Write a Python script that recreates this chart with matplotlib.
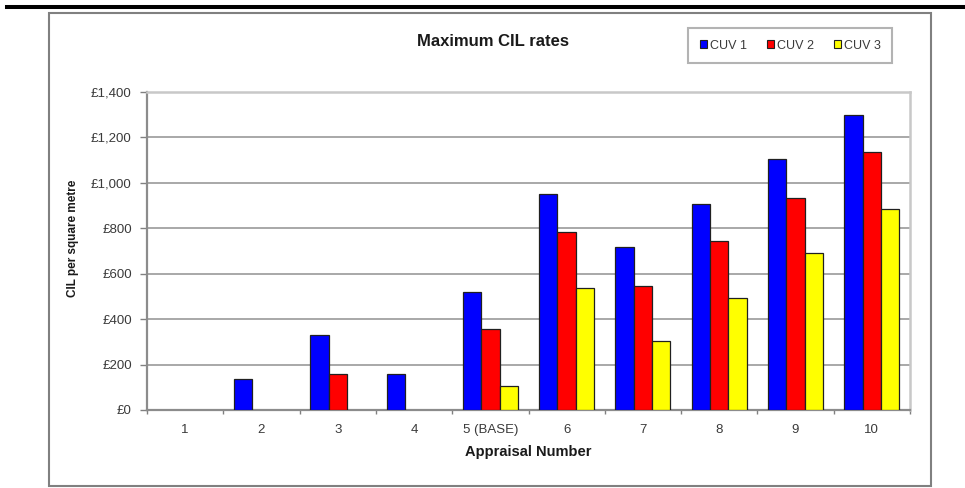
import numpy as np
import matplotlib.pyplot as plt
from matplotlib.patches import Rectangle
from matplotlib.lines import Line2D
from matplotlib.ticker import FuncFormatter

plt.rcParams['font.family'] = ['Liberation Sans', 'DejaVu Sans']

# appraisal data, CIL per square metre
appraisals = ['1', '2', '3', '4', '5 (BASE)', '6', '7', '8', '9', '10']
cuv1 = [0, 135, 330, 160, 518, 952, 716, 905, 1106, 1297]
cuv2 = [0, 0, 157, 0, 355, 784, 547, 744, 935, 1134]
cuv3 = [0, 0, 0, 0, 106, 538, 304, 494, 693, 886]
series_names = ['CUV 1', 'CUV 2', 'CUV 3']
colours = ['#0000ff', '#ff0000', '#ffff00']

W, H = 965, 488
fig = plt.figure(figsize=(W / 100, H / 100), dpi=100)

def px(x, y):
    # pixel position (from top-left) to figure fraction
    return x / W, 1 - y / H

ax = fig.add_axes([147 / W, (H - 410) / H, (910 - 147) / W, (410 - 92) / H])

x = np.arange(len(appraisals))
width = 0.24
handles = []
for i, (vals, col) in enumerate(zip([cuv1, cuv2, cuv3], colours)):
    # no outline on empty bars so nothing shows along the axis
    lws = [0.9 if v > 0 else 0 for v in vals]
    ax.bar(x + (i - 1) * width, vals, width, color=col,
           edgecolor='#202020', linewidth=lws, zorder=3)
    handles.append(Rectangle((0, 0), 1, 1, facecolor=col, edgecolor='#202020', linewidth=0.8))

ax.set_xlim(-0.5, len(appraisals) - 0.5)
ax.set_ylim(0, 1400)
ax.set_yticks(np.arange(0, 1401, 200))
ax.yaxis.set_major_formatter(FuncFormatter(lambda v, p: '£{:,.0f}'.format(v)))
ax.set_xticks(x)
ax.set_xticklabels(appraisals)
ax.set_xticks(np.arange(-0.5, len(appraisals), 1), minor=True)
ax.tick_params(axis='x', which='major', length=0, pad=10, labelsize=9.5, labelcolor='#3a3a3a')
ax.tick_params(axis='x', which='minor', length=3, color='#808080', width=1)
ax.tick_params(axis='y', length=5, color='#808080', width=1, pad=6, labelsize=9.5, labelcolor='#3a3a3a')

ax.grid(axis='y', color='#a8a8a8', linewidth=1.4, zorder=0)
ax.set_axisbelow(True)
for s in ['left', 'bottom']:
    ax.spines[s].set_color('#8c8c8c')
    ax.spines[s].set_linewidth(1.6)
for s in ['top', 'right']:
    ax.spines[s].set_color('#c8c8c8')
    ax.spines[s].set_linewidth(1.8)

# titles
tx, ty = px(493, 41)
fig.text(tx, ty, 'Maximum CIL rates', ha='center', va='center',
         fontsize=12, fontweight='bold', color='#1a1a1a')
lx, ly = px(528, 452)
fig.text(lx, ly, 'Appraisal Number', ha='center', va='center',
         fontsize=10.5, fontweight='bold', color='#1a1a1a')
yx, yy = px(73, 238)
fig.text(yx, yy, 'CIL per square metre', ha='center', va='center', rotation=90,
         fontsize=8.5, fontweight='bold', color='#1a1a1a')

# legend
cx, cy = px(790, 45.5)
leg = fig.legend(handles, series_names, loc='center', bbox_to_anchor=(cx, cy),
                 ncol=3, fontsize=9, frameon=True, fancybox=False,
                 handlelength=0.6, handleheight=0.6, handletextpad=0.2,
                 columnspacing=1.6, borderpad=0.9, labelcolor='#3a3a3a')
leg.get_frame().set_edgecolor('#a0a0a0')
leg.get_frame().set_linewidth(1.5)

# chart border and heavy rule above
bx0, by1 = px(49, 486)
bx1, by0 = px(931, 13)
fig.add_artist(Rectangle((bx0, by1), bx1 - bx0, by0 - by1, transform=fig.transFigure,
                         fill=False, edgecolor='#808080', linewidth=1.5))
rx0, ry = px(7, 7)
fig.add_artist(Line2D([rx0, 1], [ry, ry], transform=fig.transFigure,
                      color='black', linewidth=2.9))

fig.savefig('out.png', dpi=100)
